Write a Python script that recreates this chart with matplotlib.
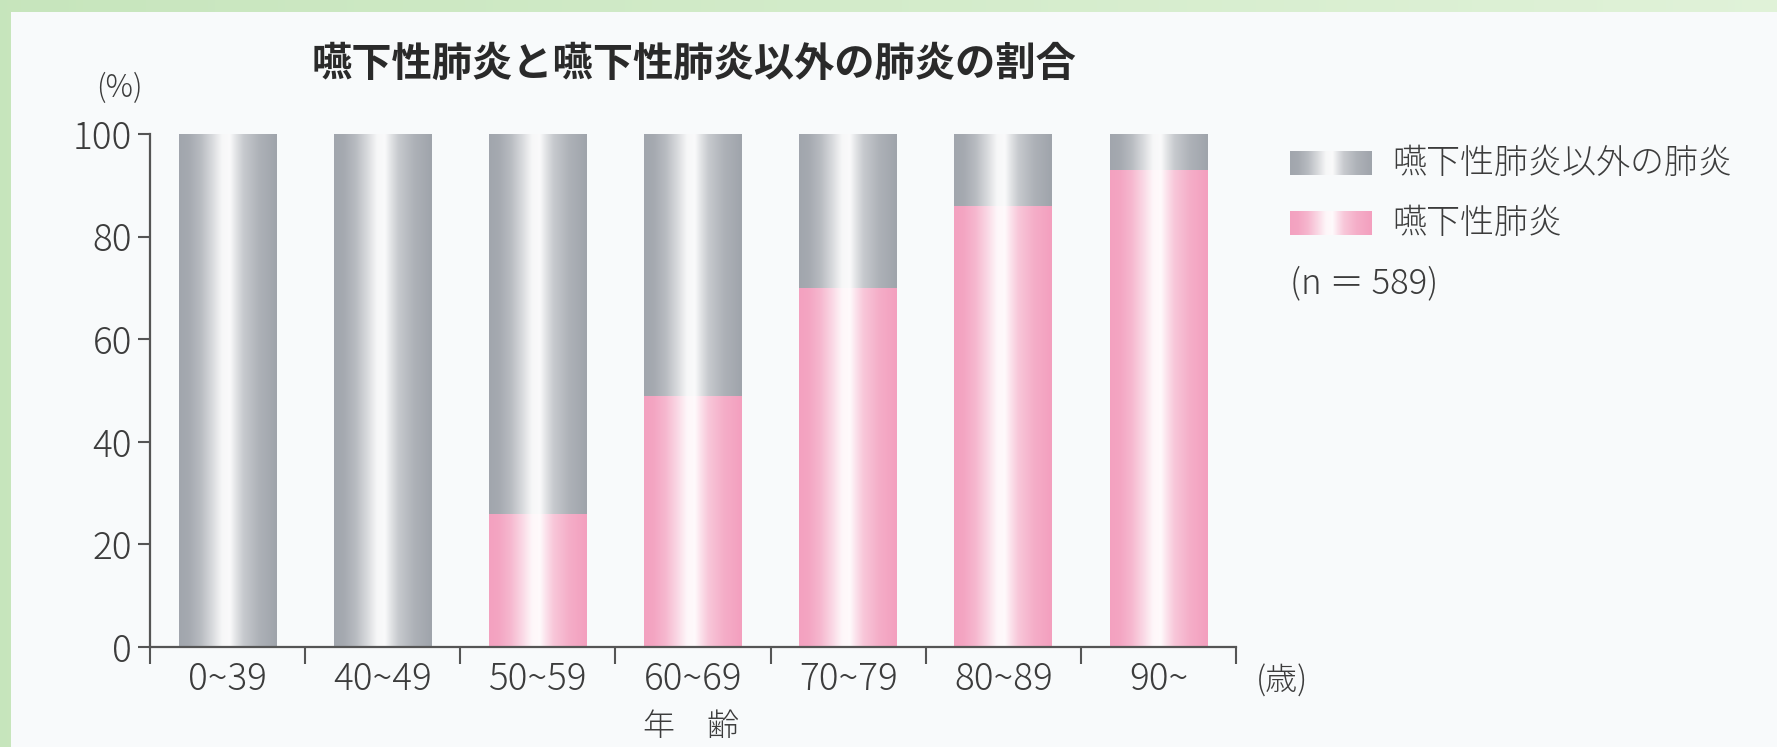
import numpy as np
import matplotlib
matplotlib.use("Agg")
import matplotlib.pyplot as plt
from matplotlib.patches import Rectangle

plt.rcParams['font.family'] = ['Noto Sans CJK JP', 'DejaVu Sans']

# ---- data ----
categories = ["0~39", "40~49", "50~59", "60~69", "70~79", "80~89", "90~"]
aspiration = [0, 0, 26, 49, 70, 86, 93]          # 嚥下性肺炎 (%)
non_aspiration = [100, 100, 74, 51, 30, 14, 7]   # 嚥下性肺炎以外の肺炎 (%)
yticks = [0, 20, 40, 60, 80, 100]
series_names = ["嚥下性肺炎以外の肺炎", "嚥下性肺炎"]
title = "嚥下性肺炎と嚥下性肺炎以外の肺炎の割合"

W, H = 1777, 747
fig = plt.figure(figsize=(W / 100, H / 100), dpi=100)

# background: green frame + light panel
bg = fig.add_axes([0, 0, 1, 1], zorder=-10)
grad = np.linspace(0, 1, 256)
green_a = np.array([0.78, 0.90, 0.74])
green_b = np.array([0.88, 0.95, 0.85])
bgimg = (green_a[None, :] * (1 - grad[:, None]) + green_b[None, :] * grad[:, None])[None, :, :]
bg.imshow(bgimg, extent=[0, 1, 0, 1], aspect='auto', transform=bg.transAxes)
bg.add_patch(Rectangle((11 / W, 0), 1, (H - 12) / H, transform=bg.transAxes,
                       facecolor='#f8fafb', edgecolor='none'))
bg.set_xlim(0, 1); bg.set_ylim(0, 1)
bg.axis('off')

# gradient profile (0 = base colour, 1 = white)
px = [0.0, 0.10, 0.22, 0.34, 0.44, 0.52, 0.58, 0.66, 0.82, 1.0]
pv = [0.08, 0.12, 0.30, 0.62, 0.92, 0.95, 0.72, 0.45, 0.20, 0.06]
xs = np.linspace(0, 1, 200)
w = np.interp(xs, px, pv)

def grad_img(base):
    base = np.array(base)
    row = base[None, :] * (1 - w[:, None]) + np.ones(3)[None, :] * w[:, None]
    return row[None, :, :]

gray_base = (0.60, 0.62, 0.65)
pink_base = (0.95, 0.60, 0.73)
gray_img = grad_img(gray_base)
pink_img = grad_img(pink_base)

ax = fig.add_axes([150 / W, (H - 647) / H, (1236 - 150) / W, (647 - 134) / H])
ax.patch.set_alpha(0)
x = np.arange(len(categories))
bw = 0.63
b1 = ax.bar(x, aspiration, bw, color='none', edgecolor='none')
b2 = ax.bar(x, non_aspiration, bw, bottom=aspiration, color='none', edgecolor='none')
for bars, img in ((b1, pink_img), (b2, gray_img)):
    for p in bars:
        if p.get_height() <= 0:
            continue
        x0, y0 = p.get_x(), p.get_y()
        ax.imshow(img, extent=[x0, x0 + p.get_width(), y0, y0 + p.get_height()],
                  aspect='auto', zorder=2, interpolation='bilinear')

ax.set_xlim(-0.5, len(categories) - 0.5)
ax.set_ylim(0, 100)
for s in ['top', 'right']:
    ax.spines[s].set_visible(False)
axis_col = '#555555'
for s in ['left', 'bottom']:
    ax.spines[s].set_color(axis_col)
    ax.spines[s].set_linewidth(1.6)
    ax.spines[s].set_zorder(3)

txt_col = '#3c3c3c'
tick_font = dict(fontsize=26.5, color=txt_col, fontweight='light')
ax.set_yticks(yticks)
ax.set_yticklabels([str(v) for v in yticks], **tick_font)
ax.tick_params(axis='y', direction='out', length=9, width=1.5, color=axis_col, pad=4)
ax.set_xticks(x)
ax.set_xticklabels(categories, **tick_font)
ax.tick_params(axis='x', which='major', length=0, pad=10)
ax.set_xticks(np.arange(-0.5, len(categories)), minor=True)
ax.tick_params(axis='x', which='minor', direction='out', length=12, width=1.5, color=axis_col)

fig.text(694 / W, 1 - 64 / H, title, fontsize=29, fontweight='bold',
         color='#2a2a2a', ha='center', va='center')
fig.text(119 / W, 1 - 88 / H, "(%)", fontsize=22, color=txt_col, ha='center', va='center',
         fontweight='light')
fig.text(1282 / W, 1 - 681 / H, "(歳)", fontsize=23, color=txt_col, ha='center', va='center',
         fontweight='light')
fig.text(691 / W, 1 - 727 / H, "年　齢", fontsize=23, color=txt_col, ha='center', va='center',
         fontweight='light')

# legend
for img, name, yc in ((gray_img, series_names[0], 163), (pink_img, series_names[1], 223)):
    lax = fig.add_axes([1290 / W, 1 - (yc + 12) / H, 81 / W, 24 / H])
    lax.imshow(img, extent=[0, 1, 0, 1], aspect='auto', interpolation='bilinear')
    lax.axis('off')
    fig.text(1392 / W, 1 - yc / H, name, fontsize=24.5, color=txt_col, ha='left', va='center',
             fontweight='light')
fig.text(1290 / W, 1 - 283 / H, "(n ＝ 589)", fontsize=25, color=txt_col, ha='left', va='center',
         fontweight='light')

fig.savefig("out.png", dpi=100)
